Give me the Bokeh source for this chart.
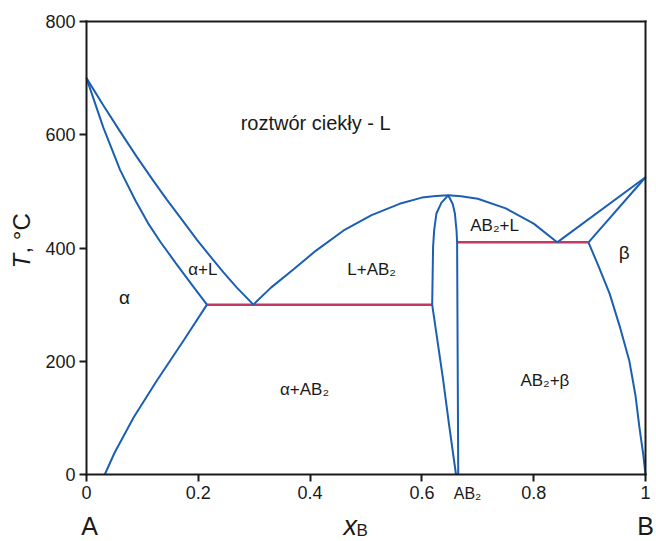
from math import pi

from bokeh.plotting import figure
from bokeh.models import Range1d, FixedTicker, Label, LinearAxis
from bokeh.embed import file_html
from bokeh.resources import INLINE

# ---- phase boundaries of the A-B system (x_B, T in °C) ----
# liquidus on the A side (A melts at 700 °C, eutectic at x=0.3, 300 °C)
liq_a_x = [0.0, 0.03, 0.06, 0.09, 0.12, 0.144, 0.17, 0.198, 0.22, 0.245, 0.269, 0.2985]
liq_a_t = [700, 652, 606, 561, 518, 485, 451, 414, 387, 357, 330, 300]
# solidus of the alpha solid solution
sol_a_x = [0.0, 0.03, 0.06, 0.0875, 0.11, 0.132, 0.16, 0.19, 0.2155]
sol_a_t = [700, 613, 538, 484, 444, 411, 373, 333, 300]
# solvus of alpha
solv_a_x = [0.2155, 0.174, 0.126, 0.0845, 0.05, 0.0327]
solv_a_t = [300, 237, 166, 101, 38, 0]
# liquidus of the AB2 compound (congruent maximum near 493 °C)
liq_ab_x = [0.2985, 0.33, 0.37, 0.41, 0.46, 0.51, 0.56, 0.60, 0.625, 0.647,
            0.67, 0.70, 0.75, 0.80, 0.842]
liq_ab_t = [300, 330, 362, 395, 431, 458, 478, 489, 492, 493,
            491.5, 487, 470, 443, 410]
# homogeneity range of AB2: left and right boundaries
ab_left_x = [0.647, 0.635, 0.626, 0.622, 0.620, 0.6184, 0.628, 0.638, 0.649, 0.661]
ab_left_t = [493, 480, 461, 432, 402, 300, 235, 167, 85, 0]
ab_right_x = [0.647, 0.655, 0.659, 0.662, 0.663, 0.664, 0.665]
ab_right_t = [493, 478, 461, 430, 410, 200, 0]
# B side: liquidus, solidus and solvus of beta (B melts at 525 °C)
liq_b_x = [0.842, 1.0]
liq_b_t = [410, 525]
sol_b_x = [0.898, 1.0]
sol_b_t = [410, 525]
solv_b_x = [0.898, 0.915, 0.936, 0.955, 0.971, 0.982, 0.989, 0.996, 1.0]
solv_b_t = [410, 370, 319, 258, 201, 140, 84, 35, 0]
# eutectic horizontals
eut1_x = [0.2155, 0.6184]
eut1_t = [300, 300]
eut2_x = [0.663, 0.898]
eut2_t = [410, 410]

# region names
region_text = ["roztwór ciekły - L", "α", "α+L", "L+AB₂", "α+AB₂",
               "AB₂+L", "β", "AB₂+β"]
region_x = [0.41, 0.068, 0.208, 0.51, 0.39, 0.73, 0.962, 0.82]
region_t = [620, 312, 362, 362, 150, 440, 392, 166]
region_size = ["20px", "19px", "17px", "17px", "17px", "17px", "19px", "17px"]

# axes
x_ticks = [0.0, 0.2, 0.4, 0.6, 0.8, 1.0]
x_tick_labels = ["0", "0.2", "0.4", "0.6", "0.8", "1"]
y_ticks = [0, 200, 400, 600, 800]
compound_label = "AB₂"
component_labels = ["A", "B"]
x_title = ["x", "B"]          # italic x with subscript B
y_title = ["T", ", °C"]       # italic T followed by the unit

BLUE = "#1b5fb3"
RED = "#c03a62"
INK = "#1a1a1a"
FONT = "Liberation Sans"

# canvas and the pixel box of the diagram (x_B 0..1, T 0..800 °C)
W, H = 656, 541
BOX_L, BOX_R, BOX_T, BOX_B = 86, 645, 21, 474
sx = (BOX_R - BOX_L) / 1.0        # px per unit of x_B
sy = (BOX_B - BOX_T) / 800.0      # px per °C


def to_data(px, py):
    """Canvas pixel position -> data coordinates."""
    return (px - BOX_L) / sx, (BOX_B - py) / sy


# the frame fills the whole canvas; the axes are pinned to the diagram box
x0, y_top = to_data(0, 0)
x1, y_bot = to_data(W, H)
p = figure(width=W, height=H,
           x_range=Range1d(x0, x1), y_range=Range1d(y_bot, y_top),
           output_backend="svg", toolbar_location=None,
           min_border_left=0, min_border_right=0,
           min_border_top=0, min_border_bottom=0)
p.xgrid.visible = False
p.ygrid.visible = False
p.outline_line_color = None
p.background_fill_color = "white"
p.border_fill_color = "white"


def style_axis(ax, labels=True):
    ax.axis_line_color = INK
    ax.axis_line_width = 2
    ax.axis_line_cap = "square"
    ax.major_tick_line_color = INK
    ax.major_tick_line_width = 2
    ax.major_tick_out = 7
    ax.major_tick_in = 0
    ax.minor_tick_out = 0
    ax.minor_tick_in = 0
    ax.major_label_text_font = FONT
    ax.major_label_text_font_size = "18px"
    ax.major_label_text_color = INK
    ax.major_label_standoff = 4
    if not labels:
        ax.major_label_text_color = None


xax = p.xaxis[0]
xax.fixed_location = 0
xax.bounds = (0, 1)
xax.ticker = FixedTicker(ticks=x_ticks)
xax.major_label_overrides = {t: s for t, s in zip(x_ticks, x_tick_labels)}
style_axis(xax)

yax = p.yaxis[0]
yax.fixed_location = 0
yax.bounds = (0, 800)
yax.ticker = FixedTicker(ticks=y_ticks)
style_axis(yax)

# closing edges of the diagram box
top_ax = LinearAxis(fixed_location=800, bounds=(0, 1), ticker=FixedTicker(ticks=[]))
style_axis(top_ax, labels=False)
p.add_layout(top_ax, "above")
right_ax = LinearAxis(fixed_location=1, bounds=(0, 800), ticker=FixedTicker(ticks=[]))
style_axis(right_ax, labels=False)
p.add_layout(right_ax, "right")

# eutectic lines first, boundaries on top
p.line(eut1_x, eut1_t, line_color=RED, line_width=2.5)
p.line(eut2_x, eut2_t, line_color=RED, line_width=2.5)

for xs, ts in [(liq_a_x, liq_a_t), (sol_a_x, sol_a_t), (solv_a_x, solv_a_t),
               (liq_ab_x, liq_ab_t), (ab_left_x, ab_left_t),
               (ab_right_x, ab_right_t), (liq_b_x, liq_b_t),
               (sol_b_x, sol_b_t), (solv_b_x, solv_b_t)]:
    p.line(xs, ts, line_color=BLUE, line_width=2)

for txt, x, t, size in zip(region_text, region_x, region_t, region_size):
    p.add_layout(Label(x=x, y=t, text=txt, text_align="center",
                       text_baseline="middle", text_font=FONT,
                       text_font_size=size, text_color=INK))


def put_text(px, py, text, size, style="normal", align="center", angle=0.0):
    """Text whose vertical middle sits at canvas pixel (px, py)."""
    x, y = to_data(px, py)
    p.add_layout(Label(x=x, y=y, text=text, angle=angle, text_align=align,
                       text_baseline="middle", text_font=FONT,
                       text_font_style=style, text_font_size=size,
                       text_color=INK))


# compound composition under the axis
put_text(467, 493, compound_label, "16px")
# pure components under the axis ends
put_text(89, 525, component_labels[0], "25px")
put_text(645, 525, component_labels[1], "25px")
# x-axis title
put_text(343, 525, x_title[0], "27px", style="italic", align="left")
put_text(356, 530, x_title[1], "17px", align="left")
# y-axis title, reading upwards
put_text(21, 268, y_title[0], "24px", style="italic", align="left", angle=pi / 2)
put_text(21, 253, y_title[1], "24px", align="left", angle=pi / 2)

open("out.html", "w").write(file_html(p, INLINE))
